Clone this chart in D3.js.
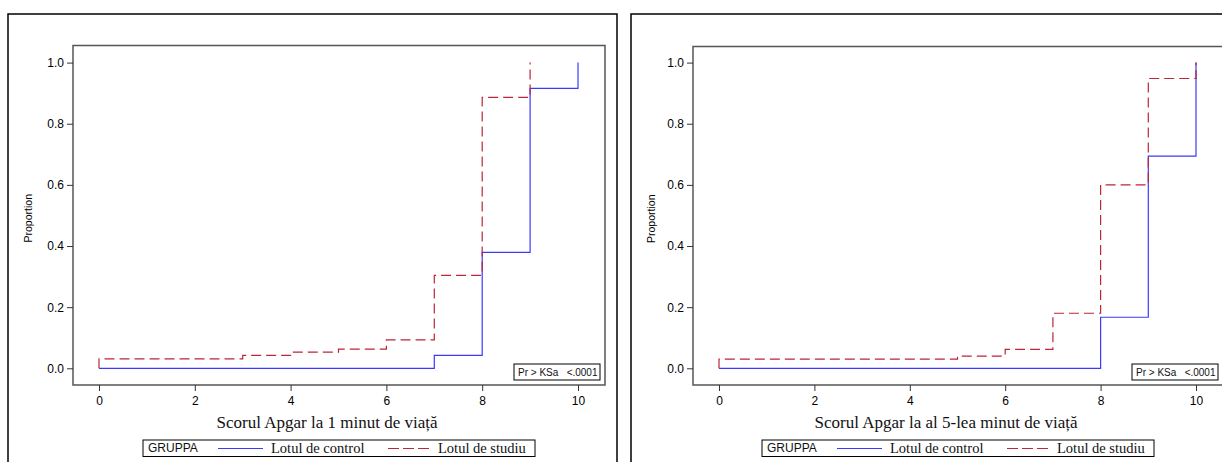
<!DOCTYPE html>
<html>
<head>
<meta charset="utf-8">
<script src="https://cdn.jsdelivr.net/npm/d3@7"></script>
<style>
  html, body { margin: 0; padding: 0; background: #fff; }
  svg { display: block; }
  .sans { font-family: "Liberation Sans", Arial, sans-serif; }
  .serif { font-family: "Liberation Serif", "Times New Roman", serif; }
</style>
</head>
<body>
<svg id="chart" width="1222" height="462"></svg>
<script>
// Apgar scores on the x axis
const scores = [0, 1, 2, 3, 4, 5, 6, 7, 8, 9, 10];
const xTicks = [0, 2, 4, 6, 8, 10];
const yTicks = [0.0, 0.2, 0.4, 0.6, 0.8, 1.0];

// Empirical cumulative proportion per score, 1st minute
const control1 = [0, 0, 0, 0, 0, 0, 0, 0.042, 0.379, 0.916, 1.0];
const study1   = [0.031, 0.031, 0.031, 0.042, 0.053, 0.063, 0.093, 0.304, 0.886, 1.0, 1.0];

// Empirical cumulative proportion per score, 5th minute
const control5 = [0, 0, 0, 0, 0, 0, 0, 0, 0.167, 0.694, 1.0];
const study5   = [0.030, 0.030, 0.030, 0.030, 0.030, 0.040, 0.062, 0.180, 0.600, 0.948, 1.0];

const groupTitle = "GRUPPA";
const groupNames = ["Lotul de control", "Lotul de studiu"];
const testLabel = "Pr > KSa\u00a0\u00a0 <.0001";
const titles = ["Scorul Apgar la 1 minut de viață", "Scorul Apgar la al 5-lea minut de viață"];

const BLUE = "#3a3aff";
const RED = "#bb2638";

const panels = [
  { frameX: 8,   plotL: 73,  plotR: 605,  plotT: 45.5, control: control1, study: study1, title: titles[0] },
  { frameX: 631, plotL: 693, plotR: 1223, plotT: 46.5, control: control5, study: study5, title: titles[1] }
];

const svg = d3.select("#chart");

// Step path points: start at zero, climb to the first value, stop once 1.0 is reached
function ecdfPoints(values) {
  const pts = [[scores[0], 0]];
  for (let i = 0; i < scores.length; i++) {
    pts.push([scores[i], values[i]]);
    if (values[i] >= 1) break;
  }
  return pts;
}

panels.forEach(p => {
  const g = svg.append("g");
  const plotB = 385;

  // outer frame of the panel
  g.append("rect")
    .attr("x", p.frameX).attr("y", 14)
    .attr("width", 609).attr("height", 470)
    .attr("fill", "none").attr("stroke", "#000").attr("stroke-width", 1.5);

  const x = d3.scaleLinear().domain([0, 10]).range([p.plotL + 26, p.plotR - 27]);
  const y = d3.scaleLinear().domain([0, 1]).range([368.3, 62.6]);

  // plot area border
  g.append("rect")
    .attr("x", p.plotL).attr("y", p.plotT)
    .attr("width", p.plotR - p.plotL).attr("height", plotB - p.plotT)
    .attr("fill", "none").attr("stroke", "#555").attr("stroke-width", 1.5);

  // y axis
  const yAxis = g.append("g")
    .attr("transform", `translate(${p.plotL},0)`)
    .call(d3.axisLeft(y).tickValues(yTicks).tickFormat(d3.format(".1f")).tickSize(6).tickPadding(3));
  yAxis.select(".domain").remove();
  yAxis.selectAll("line").attr("stroke", "#333");
  yAxis.selectAll("text").attr("class", "sans").attr("font-size", "12px").attr("fill", "#000");

  // x axis
  const xAxis = g.append("g")
    .attr("transform", `translate(0,${plotB})`)
    .call(d3.axisBottom(x).tickValues(xTicks).tickFormat(d3.format("d")).tickSize(6).tickPadding(5));
  xAxis.select(".domain").remove();
  xAxis.selectAll("line").attr("stroke", "#333");
  xAxis.selectAll("text").attr("class", "sans").attr("font-size", "12px").attr("fill", "#000");

  // y axis label
  g.append("text")
    .attr("class", "sans")
    .attr("transform", `translate(${p.frameX + 24},${(p.plotT + plotB) / 2 + 3}) rotate(-90)`)
    .attr("text-anchor", "middle")
    .attr("font-size", "10.5px")
    .attr("fill", "#000")
    .text("Proportion");

  // x axis title
  const cx = (p.plotL + p.plotR) / 2;
  g.append("text")
    .attr("class", "serif")
    .attr("x", cx - 12).attr("y", 428)
    .attr("text-anchor", "middle")
    .attr("font-size", "17px")
    .attr("fill", "#111")
    .text(p.title);

  // step curves: control solid, study dashed on top
  const line = d3.line()
    .x(d => x(d[0]))
    .y(d => y(d[1]))
    .curve(d3.curveStepAfter);

  g.append("path")
    .datum(ecdfPoints(p.control))
    .attr("d", line)
    .attr("fill", "none").attr("stroke", BLUE).attr("stroke-width", 1.2);

  g.append("path")
    .datum(ecdfPoints(p.study))
    .attr("d", line)
    .attr("fill", "none").attr("stroke", RED).attr("stroke-width", 1.2)
    .attr("stroke-dasharray", "10,5");

  // test statistic box
  const kx = p.plotR - 91;
  g.append("rect")
    .attr("x", kx).attr("y", 364).attr("width", 86).attr("height", 16)
    .attr("fill", "#fff").attr("stroke", "#000").attr("stroke-width", 1);
  g.append("text")
    .attr("class", "sans")
    .attr("x", kx + 4).attr("y", 376)
    .attr("font-size", "10px")
    .attr("fill", "#111")
    .text(testLabel);

  // legend
  const lw = 392;
  const lx = cx - lw / 2;
  const lg = g.append("g").attr("transform", `translate(${lx},440)`);
  lg.append("rect")
    .attr("x", 0).attr("y", 0).attr("width", lw).attr("height", 16.5)
    .attr("fill", "#fff").attr("stroke", "#000").attr("stroke-width", 1);
  lg.append("text")
    .attr("class", "sans")
    .attr("x", 5).attr("y", 11.5)
    .attr("font-size", "12px").attr("fill", "#111")
    .text(groupTitle);
  lg.append("line")
    .attr("x1", 75).attr("x2", 120).attr("y1", 8.5).attr("y2", 8.5)
    .attr("stroke", BLUE).attr("stroke-width", 1.2);
  lg.append("text")
    .attr("class", "serif")
    .attr("x", 128).attr("y", 13)
    .attr("font-size", "14.5px").attr("fill", "#111")
    .text(groupNames[0]);
  lg.append("line")
    .attr("x1", 245).attr("x2", 287).attr("y1", 8.5).attr("y2", 8.5)
    .attr("stroke", RED).attr("stroke-width", 1.2)
    .attr("stroke-dasharray", "11,4");
  lg.append("text")
    .attr("class", "serif")
    .attr("x", 295).attr("y", 13)
    .attr("font-size", "14.5px").attr("fill", "#111")
    .text(groupNames[1]);
});
</script>
</body>
</html>
